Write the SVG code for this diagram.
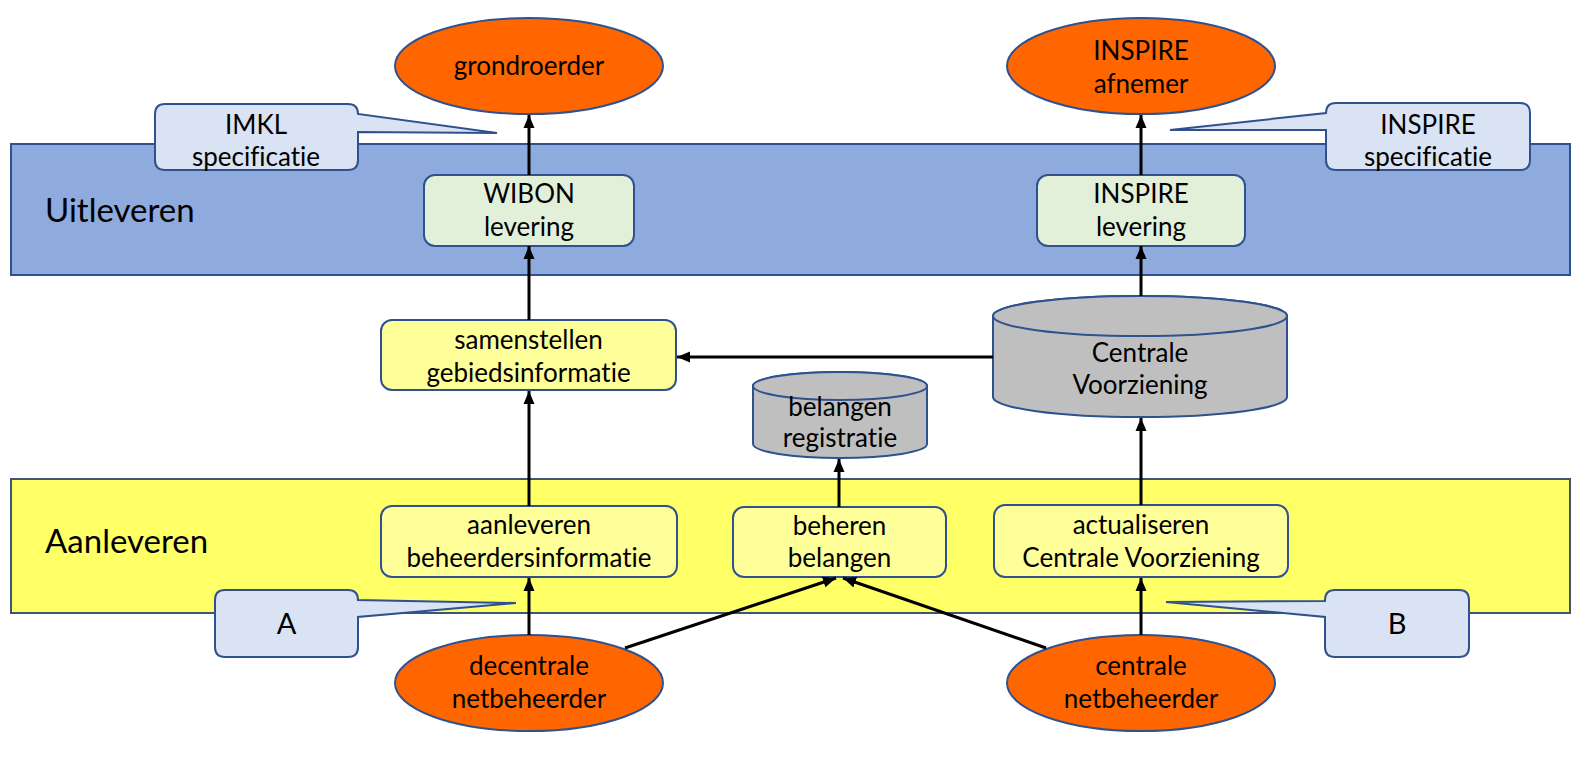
<svg xmlns="http://www.w3.org/2000/svg" width="1582" height="758" viewBox="0 0 1582 758">
<style>
text{font-family:Lato,"Liberation Sans",sans-serif;fill:#000;text-anchor:middle;font-size:26px;font-variant-ligatures:none;font-feature-settings:"liga" 0}
.band-b{fill:#8FAADC;stroke:#2F528F;stroke-width:2}
.band-y{fill:#FFFF66;stroke:#3F5573;stroke-width:2}
.green{fill:#E2F0D9;stroke:#2F528F;stroke-width:2}
.yel{fill:#FFFF99;stroke:#2F528F;stroke-width:2}
.ell{fill:#FF6600;stroke:#2F528F;stroke-width:2}
.call{fill:#DAE3F3;stroke:#2F528F;stroke-width:2}
.cyl{fill:#BFBFBF;stroke:#2F528F;stroke-width:2}
.big{font-size:33px;text-anchor:start}
.letter{font-size:29px}
.conn line{stroke:#000;stroke-width:3;marker-end:url(#ah)}
</style>
<defs>
<marker id="ah" markerUnits="userSpaceOnUse" markerWidth="14" markerHeight="14" viewBox="0 0 14 14" refX="13" refY="7" orient="auto">
<path d="M0,1.5 L13,7 L0,12.5 Z" fill="#000"/>
</marker>
</defs>
<rect width="1582" height="758" fill="#fff"/>
<g id="band-uitleveren">
<rect class="band-b" x="11" y="144" width="1559" height="131"/>
<text class="big" x="45" y="222">Uitleveren</text>
</g>
<g id="band-aanleveren">
<rect class="band-y" x="11" y="479" width="1559" height="134"/>
<text class="big" x="45" y="553">Aanleveren</text>
</g>
<g id="grondroerder">
<ellipse class="ell" cx="529" cy="66" rx="134" ry="48"/>
<text x="529" y="75">grondroerder</text>
</g>
<g id="inspire-afnemer">
<ellipse class="ell" cx="1141" cy="66" rx="134" ry="48"/>
<text x="1141" y="60">INSPIRE</text>
<text x="1141" y="93">afnemer</text>
</g>
<g id="imkl-spec">
<path class="call" d="M165,104 H348 Q358,104 358,114 L497,133 L358,132 V160 Q358,170 348,170 H165 Q155,170 155,160 V114 Q155,104 165,104 Z"/>
<text x="256" y="134">IMKL</text>
<text x="256" y="166">specificatie</text>
</g>
<g id="inspire-spec">
<path class="call" d="M1336,103 H1520 Q1530,103 1530,113 V160 Q1530,170 1520,170 H1336 Q1326,170 1326,160 V130 L1170,130 L1326,113 Q1326,103 1336,103 Z"/>
<text x="1428" y="134">INSPIRE</text>
<text x="1428" y="166">specificatie</text>
</g>
<g id="wibon-levering">
<rect class="green" x="424" y="175" width="210" height="71" rx="11"/>
<text x="529" y="203">WIBON</text>
<text x="529" y="236">levering</text>
</g>
<g id="inspire-levering">
<rect class="green" x="1037" y="175" width="208" height="71" rx="11"/>
<text x="1141" y="203">INSPIRE</text>
<text x="1141" y="236">levering</text>
</g>
<g id="samenstellen">
<rect class="yel" x="381" y="320" width="295" height="70" rx="11"/>
<text x="528.5" y="349">samenstellen</text>
<text x="528.5" y="382">gebiedsinformatie</text>
</g>
<g id="centrale-voorziening">
<path class="cyl" d="M993,316 V397 A147,20 0 0 0 1287,397 V316 A147,20 0 0 0 993,316 Z"/>
<ellipse class="cyl" cx="1140" cy="316" rx="147" ry="20"/>
<text x="1140" y="362">Centrale</text>
<text x="1140" y="394">Voorziening</text>
</g>
<g id="belangen-registratie">
<path class="cyl" d="M753,386 V444 A87,14 0 0 0 927,444 V386 A87,14 0 0 0 753,386 Z"/>
<ellipse class="cyl" cx="840" cy="386" rx="87" ry="14"/>
<text x="840" y="416">belangen</text>
<text x="840" y="447">registratie</text>
</g>
<g id="aanleveren">
<rect class="yel" x="381" y="506" width="296" height="71" rx="11"/>
<text x="529" y="534">aanleveren</text>
<text x="529" y="567">beheerdersinformatie</text>
</g>
<g id="beheren-belangen">
<rect class="yel" x="733" y="507" width="213" height="70" rx="11"/>
<text x="839.5" y="535">beheren</text>
<text x="839.5" y="567">belangen</text>
</g>
<g id="actualiseren">
<rect class="yel" x="994" y="505" width="294" height="72" rx="11"/>
<text x="1141" y="534">actualiseren</text>
<text x="1141" y="567">Centrale Voorziening</text>
</g>
<g id="callout-a">
<path class="call" d="M225,590 H348 Q358,590 358,600 L516,603 L358,617 V647 Q358,657 348,657 H225 Q215,657 215,647 V600 Q215,590 225,590 Z"/>
<text class="letter" x="286.5" y="634">A</text>
</g>
<g id="callout-b">
<path class="call" d="M1335,590 H1459 Q1469,590 1469,600 V647 Q1469,657 1459,657 H1335 Q1325,657 1325,647 V617 L1166,602 L1325,601 V600 Q1325,590 1335,590 Z"/>
<text class="letter" x="1397" y="634">B</text>
</g>
<g id="decentrale-netbeheerder">
<ellipse class="ell" cx="529" cy="683" rx="134" ry="48"/>
<text x="529" y="675">decentrale</text>
<text x="529" y="708">netbeheerder</text>
</g>
<g id="centrale-netbeheerder">
<ellipse class="ell" cx="1141" cy="683" rx="134" ry="48"/>
<text x="1141" y="675">centrale</text>
<text x="1141" y="708">netbeheerder</text>
</g>
<g id="connectors" class="conn">
<line x1="529" y1="175" x2="529" y2="115"/>
<line x1="529" y1="320" x2="529" y2="246"/>
<line x1="529" y1="506" x2="529" y2="391"/>
<line x1="529" y1="635" x2="529" y2="578"/>
<line x1="1141" y1="175" x2="1141" y2="115"/>
<line x1="1141" y1="296" x2="1141" y2="246"/>
<line x1="993" y1="357" x2="677" y2="357"/>
<line x1="1141" y1="505" x2="1141" y2="418"/>
<line x1="1141" y1="635" x2="1141" y2="578"/>
<line x1="839" y1="507" x2="839" y2="459"/>
<line x1="625" y1="648" x2="836" y2="578"/>
<line x1="1046" y1="648" x2="843" y2="578"/>
</g>
</svg>
